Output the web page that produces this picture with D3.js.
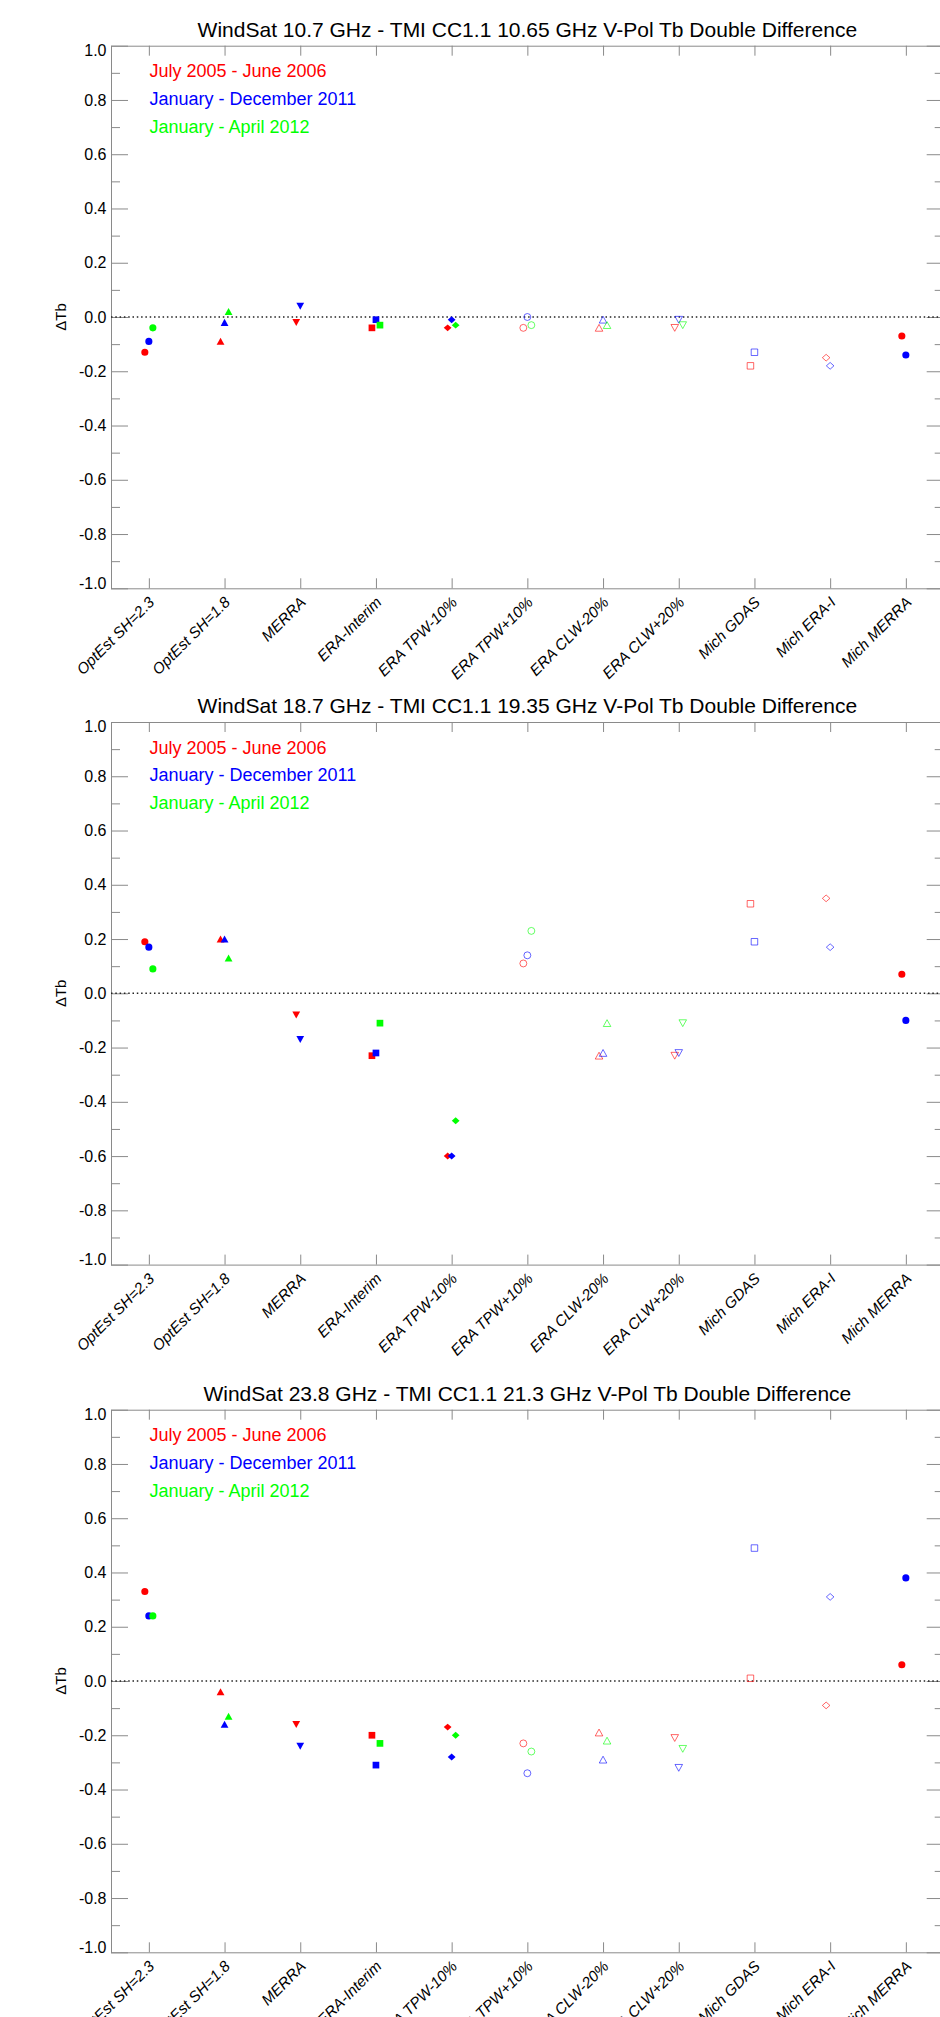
<!DOCTYPE html>
<html lang="en">
<head>
<meta charset="utf-8">
<title>WindSat - TMI CC1.1 V-Pol Tb Double Difference</title>
<style>
  body { margin: 0; background: #fff; }
  svg text { font-family: "Liberation Sans", Arial, Helvetica, sans-serif; }
  .axis path { display: none; }
  .axis line { stroke: #8a8a8a; }
  .axis text { fill: #000; font-size: 16px; }
  .xlab text { font-style: italic; font-size: 15.3px; }
</style>
</head>
<body>
<div id="chart"></div>
<script src="https://d3js.org/d3.v7.min.js"></script>
<script>
  var categories = ["OptEst SH=2.3", "OptEst SH=1.8", "MERRA", "ERA-Interim", "ERA TPW-10%",
    "ERA TPW+10%", "ERA CLW-20%", "ERA CLW+20%", "Mich GDAS", "Mich ERA-I", "Mich MERRA"];
  var seriesNames = ["July 2005 - June 2006", "January - December 2011", "January - April 2012"];
  var titles = [
    "WindSat 10.7 GHz - TMI CC1.1 10.65 GHz V-Pol Tb Double Difference",
    "WindSat 18.7 GHz - TMI CC1.1 19.35 GHz V-Pol Tb Double Difference",
    "WindSat 23.8 GHz - TMI CC1.1 21.3 GHz V-Pol Tb Double Difference"
  ];
  var yTicks = [-1.0, -0.8, -0.6, -0.4, -0.2, 0.0, 0.2, 0.4, 0.6, 0.8, 1.0];
  var yMinor = [-0.9, -0.7, -0.5, -0.3, -0.1, 0.1, 0.3, 0.5, 0.7, 0.9];

  // 10.7 GHz
  var p1Jul2005 = [-0.13, -0.09, -0.02, -0.04, -0.04, -0.04, -0.04, -0.04, -0.18, -0.15, -0.07];
  var p1Jan2011 = [-0.09, -0.02, 0.04, -0.01, -0.01, 0.00, -0.01, -0.01, -0.13, -0.18, -0.14];
  var p1Jan2012 = [-0.04, 0.02, null, -0.03, -0.03, -0.03, -0.03, -0.03, null, null, null];
  // 18.7 GHz
  var p2Jul2005 = [0.19, 0.20, -0.08, -0.23, -0.60, 0.11, -0.23, -0.23, 0.33, 0.35, 0.07];
  var p2Jan2011 = [0.17, 0.20, -0.17, -0.22, -0.60, 0.14, -0.22, -0.22, 0.19, 0.17, -0.10];
  var p2Jan2012 = [0.09, 0.13, null, -0.11, -0.47, 0.23, -0.11, -0.11, null, null, null];
  // 23.8 GHz
  var p3Jul2005 = [0.33, -0.04, -0.16, -0.20, -0.17, -0.23, -0.19, -0.21, 0.01, -0.09, 0.06];
  var p3Jan2011 = [0.24, -0.16, -0.24, -0.31, -0.28, -0.34, -0.29, -0.32, 0.49, 0.31, 0.38];
  var p3Jan2012 = [0.24, -0.13, null, -0.23, -0.20, -0.26, -0.22, -0.25, null, null, null];

  var panels = [
    { title: titles[0], series: [p1Jul2005, p1Jan2011, p1Jan2012] },
    { title: titles[1], series: [p2Jul2005, p2Jan2011, p2Jan2012] },
    { title: titles[2], series: [p3Jul2005, p3Jan2011, p3Jan2012] }
  ];

  var seriesColors = ["#ff0000", "#0000ff", "#00ff00"];
  var seriesOffset = [-0.053, 0, 0.053];
  var markerShape = ["circle", "up", "down", "square", "diamond",
    "circle", "up", "down", "square", "diamond", "circle"];
  var markerFilled = [true, true, true, true, true, false, false, false, false, false, true];

  var width = 940, height = 2017;
  var left = 111, right = 943.7;
  var tops = [45.7, 722, 1409.7];
  var plotH = 542.6;

  var svg = d3.select("#chart")
    .append("svg")
    .attr("width", width)
    .attr("height", height);

  var x = d3.scaleLinear().domain([0.5, 11.5]).range([left, right]);
  var y = d3.scaleLinear().domain([-1, 1]).range([plotH, 0]);
  var catTicks = d3.range(1, categories.length + 1);

  function shapePath(shape, open) {
    var s = open ? 1.05 : 1.08;
    var p = d3.path();
    if (shape == "circle") {
      p.arc(0, 0, 3.3 * s, 0, 2 * Math.PI);
      p.closePath();
    } else if (shape == "up") {
      p.moveTo(0, -3.3 * s); p.lineTo(3.6 * s, 3.2 * s); p.lineTo(-3.6 * s, 3.2 * s); p.closePath();
    } else if (shape == "down") {
      p.moveTo(0, 3.3 * s); p.lineTo(3.6 * s, -3.2 * s); p.lineTo(-3.6 * s, -3.2 * s); p.closePath();
    } else if (shape == "square") {
      p.rect(-3.1 * s, -3.1 * s, 6.2 * s, 6.2 * s);
    } else {
      p.moveTo(0, -3.2 * s); p.lineTo(3.6 * s, 0); p.lineTo(0, 3.2 * s); p.lineTo(-3.6 * s, 0); p.closePath();
    }
    return p.toString();
  }

  panels.forEach(function (panel, k) {
    var g = svg.append("g").attr("transform", "translate(0," + tops[k] + ")");

    g.append("rect")
      .attr("x", left + 0.5).attr("y", 0.5)
      .attr("width", right - left).attr("height", plotH)
      .attr("fill", "none").attr("stroke", "#8a8a8a");

    // left axis
    var ly = g.append("g").attr("class", "axis").attr("transform", "translate(" + left + ",0)")
      .call(d3.axisLeft(y).tickValues(yTicks).tickSize(-17).tickPadding(4.5)
        .tickFormat(function (d) { return d.toFixed(1); }));
    ly.selectAll("text").attr("y", function (d) {
      return d == 1 ? 4.5 : (d == -1 ? -5 : 0);
    });
    g.append("g").attr("class", "axis").attr("transform", "translate(" + left + ",0)")
      .call(d3.axisLeft(y).tickValues(yMinor).tickSize(-9).tickFormat(""));

    // right axis
    g.append("g").attr("class", "axis").attr("transform", "translate(" + right + ",0)")
      .call(d3.axisRight(y).tickValues(yTicks).tickSize(-17).tickFormat(""));
    g.append("g").attr("class", "axis").attr("transform", "translate(" + right + ",0)")
      .call(d3.axisRight(y).tickValues(yMinor).tickSize(-9).tickFormat(""));

    // top and bottom axes
    g.append("g").attr("class", "axis")
      .call(d3.axisTop(x).tickValues(catTicks).tickSize(-10).tickFormat(""));
    g.append("g").attr("class", "axis xlab").attr("transform", "translate(0," + plotH + ")")
      .call(d3.axisBottom(x).tickValues(catTicks).tickSize(-10)
        .tickFormat(function (d) { return categories[d - 1]; }))
      .selectAll("text")
      .attr("x", 0).attr("y", 0).attr("dy", null)
      .attr("text-anchor", "end")
      .attr("transform", "translate(6,15) rotate(-45)");

    // zero line
    g.append("line")
      .attr("x1", left).attr("x2", right)
      .attr("y1", y(0)).attr("y2", y(0))
      .attr("stroke", "#222").attr("stroke-width", 1.5)
      .attr("stroke-dasharray", "1.5,2.8");

    // title
    g.append("text")
      .attr("x", (left + right) / 2).attr("y", -9)
      .attr("text-anchor", "middle")
      .style("font-size", "21px")
      .text(panel.title);

    // y label
    g.append("text")
      .attr("transform", "translate(66," + (plotH / 2) + ") rotate(-90)")
      .attr("text-anchor", "middle")
      .style("font-size", "15px")
      .text("ΔTb");

    // legend
    g.selectAll(".legend")
      .data(seriesNames)
      .enter()
      .append("text")
      .attr("x", 149.5)
      .attr("y", function (d, i) { return 31.6 + 27.7 * i; })
      .attr("fill", function (d, i) { return seriesColors[i]; })
      .style("font-size", "18px")
      .text(function (d) { return d; });

    // markers
    panel.series.forEach(function (vals, s) {
      g.selectAll(".m" + s)
        .data(vals.map(function (v, i) { return { i: i, v: v }; })
          .filter(function (d) { return d.v !== null; }))
        .enter()
        .append("path")
        .attr("transform", function (d) {
          return "translate(" + x(d.i + 1 + seriesOffset[s]) + "," + y(d.v) + ")";
        })
        .attr("d", function (d) { return shapePath(markerShape[d.i], !markerFilled[d.i]); })
        .attr("fill", function (d) { return markerFilled[d.i] ? seriesColors[s] : "none"; })
        .attr("stroke", function (d) { return markerFilled[d.i] ? "none" : seriesColors[s]; })
        .attr("stroke-opacity", 0.6)
        .attr("stroke-width", 1);
    });
  });
</script>
</body>
</html>
